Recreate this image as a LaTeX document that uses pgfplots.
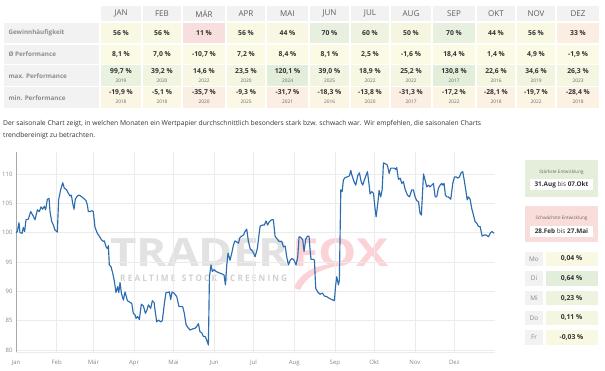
\documentclass[border=0pt]{standalone}
\usepackage{fontspec}
\setmainfont{Open Sans}
\usepackage{graphicx}
\usepackage{pgfplots}
\pgfplotsset{compat=1.18}
\definecolor{hdr}{HTML}{F2F2F2}
\definecolor{hdrtext}{HTML}{5E5E5E}
\definecolor{lbltext}{HTML}{8C8C8C}
\definecolor{valtext}{HTML}{333333}
\definecolor{yrtext}{HTML}{666666}
\definecolor{cY}{HTML}{F8F8E3}
\definecolor{cPk}{HTML}{F8DEDC}
\definecolor{cY44}{HTML}{F9F7E3}
\definecolor{cG70}{HTML}{E7F0DE}
\definecolor{cG60}{HTML}{EEF3DF}
\definecolor{cY50}{HTML}{F6F6E0}
\definecolor{cO33}{HTML}{FBEDE1}
\definecolor{cPv}{HTML}{FAFAE5}
\definecolor{mG1}{HTML}{E9F1DF}
\definecolor{mG2}{HTML}{F1F4E0}
\definecolor{mG3}{HTML}{F7F7E3}
\definecolor{mG4}{HTML}{F4F6E1}
\definecolor{mG5}{HTML}{E3EEDA}
\definecolor{nO1}{HTML}{FBF6E4}
\definecolor{nO2}{HTML}{FBF9E5}
\definecolor{nO3}{HTML}{FBEEE2}
\definecolor{nO4}{HTML}{FBF2E3}
\definecolor{gridc}{HTML}{EBEBEB}
\definecolor{axc}{HTML}{A8A8A8}
\definecolor{tickc}{HTML}{888888}
\definecolor{curve}{HTML}{2C6DB0}
\definecolor{wmgray}{HTML}{E2E2E2}
\definecolor{wmpink}{HTML}{FBD3D7}
\definecolor{boxG}{HTML}{E4EEDB}
\definecolor{boxR}{HTML}{F8DDDA}
\newcommand{\hdrfont}{\fontsize{8}{9}\selectfont}
\newcommand{\lblfont}{\fontsize{6.3}{7}\selectfont\bfseries}
\newcommand{\valfont}{\fontsize{6.8}{8}\selectfont\bfseries}
\newcommand{\yrfont}{\fontsize{4.8}{5.5}\selectfont}
\newcommand{\dc}{,}
% #1 left #2 right #3 month #4 gain #5 gain colour #6 perf
\newcommand{\colA}[6]{%
  \fill[hdr] ({#1+0.7},6) rectangle ({#2-0.7},21);
  \node[font=\hdrfont, text=hdrtext] at ({(#1+#2)/2},13.5) {#3};
  \fill[#5] ({#1+0.7},22.7) rectangle ({#2-0.7},42.7);
  \node[font=\valfont, text=valtext] at ({(#1+#2)/2},33) {#4 \%};
  \fill[cPv] ({#1+0.7},45) rectangle ({#2-0.7},64.3);
  \node[font=\valfont, text=valtext] at ({(#1+#2)/2},54.5) {#6 \%};
}
% #1 left #2 right #3 max #4 year #5 colour #6 min #7 year #8 colour
\newcommand{\colB}[8]{%
  \fill[#5] ({#1+0.7},65.3) rectangle ({#2-0.7},86.5);
  \node[font=\valfont, text=valtext] at ({(#1+#2)/2},71.5) {#3 \%};
  \node[font=\yrfont, text=yrtext] at ({(#1+#2)/2},80.5) {#4};
  \fill[#8] ({#1+0.7},87.3) rectangle ({#2-0.7},108.3);
  \node[font=\valfont, text=valtext] at ({(#1+#2)/2},92.8) {#6 \%};
  \node[font=\yrfont, text=yrtext] at ({(#1+#2)/2},101.5) {#7};
}
\begin{document}
\begin{tikzpicture}
\useasboundingbox (0,0) rectangle (605pt,-371pt);
\begin{scope}[x=1pt,y=-1pt]
% row labels
\foreach \t/\b/\lab in {22.7/42.7/Gewinnhäufigkeit, 45/64.3/Ø Performance, 65.3/86.5/max. Performance, 87.3/108.3/min. Performance} {
  \fill[hdr] (4,\t) rectangle (99,\b);
  \node[anchor=west, font=\lblfont, text=lbltext] at (5,{(\t+\b)/2}) {\lab};
}
\colA{100}{142}{JAN}{56}{cY}{8\dc1}
\colA{142}{182}{FEB}{56}{cY}{7\dc0}
\colA{182}{226}{MÄR}{11}{cPk}{-10\dc7}
\colA{226}{266}{APR}{56}{cY}{7\dc2}
\colA{266}{309}{MAI}{44}{cY44}{8\dc4}
\colA{309}{350}{JUN}{70}{cG70}{8\dc1}
\colA{350}{390}{JUL}{60}{cG60}{2\dc5}
\colA{390}{432}{AUG}{50}{cY50}{-1\dc6}
\colA{432}{476}{SEP}{70}{cG70}{18\dc4}
\colA{476}{516}{OKT}{44}{cY44}{1\dc4}
\colA{516}{556}{NOV}{56}{cY}{4\dc9}
\colA{556}{600}{DEZ}{33}{cO33}{-1\dc9}
\colB{100}{142}{99\dc7}{2019}{mG1}{-19\dc9}{2018}{nO1}
\colB{142}{182}{39\dc2}{2020}{mG2}{-5\dc1}{2018}{nO2}
\colB{182}{226}{14\dc6}{2022}{mG3}{-35\dc7}{2020}{nO3}
\colB{226}{266}{23\dc5}{2020}{mG4}{-9\dc3}{2025}{nO2}
\colB{266}{309}{120\dc1}{2024}{mG5}{-31\dc7}{2021}{nO3}
\colB{309}{350}{39\dc0}{2025}{mG2}{-18\dc3}{2016}{nO1}
\colB{350}{390}{18\dc9}{2022}{mG3}{-13\dc8}{2020}{nO1}
\colB{390}{432}{25\dc2}{2022}{mG4}{-31\dc3}{2017}{nO3}
\colB{432}{476}{130\dc8}{2017}{mG5}{-17\dc2}{2022}{nO1}
\colB{476}{516}{22\dc6}{2016}{mG4}{-28\dc1}{2018}{nO4}
\colB{516}{556}{34\dc6}{2019}{mG2}{-19\dc7}{2022}{nO1}
\colB{556}{600}{26\dc3}{2023}{mG4}{-28\dc4}{2018}{nO4}
% description
\node[anchor=west, font=\fontsize{6.75}{8}\selectfont, text=valtext, inner sep=0] at (3,124) {Der saisonale Chart zeigt, in welchen Monaten ein Wertpapier durchschnittlich besonders stark bzw. schwach war. Wir empfehlen, die saisonalen Charts};
\node[anchor=west, font=\fontsize{6.75}{8}\selectfont, text=valtext, inner sep=0] at (3,136) {trendbereinigt zu betrachten.};
% watermark
\fill[wmpink] (294,288) .. controls (300,272) and (318,262) .. (346,264) .. controls (322,268) and (306,276) .. (300,290) -- cycle;
\node[anchor=west, inner sep=0, text=wmgray] at (110,252.5) {\resizebox{179pt}{28pt}{\bfseries TRADER}};
\node[anchor=west, inner sep=0, text=wmpink] at (292,252.5) {\resizebox{96pt}{28pt}{\bfseries FOX}};
\node[anchor=west, inner sep=0, text=wmgray!92!black] at (120,278) {\resizebox{167pt}{6.5pt}{\bfseries R E A L T I M E \ \ S T O C K \ \ S C R E E N I N G}};
% right panel
\fill[boxG] (525,160) rectangle (598,197);
\node[font=\fontsize{4.6}{5}\selectfont, text=yrtext] at (561.5,172.5) {Stärkste Entwicklung};
\fill[white] (530,179) rectangle (593,190);
\node[font=\fontsize{6.4}{7}\selectfont, text=valtext] at (561.5,184.5) {\textbf{31.Aug} bis \textbf{07.Okt}};
\fill[boxR] (525,206) rectangle (598,242);
\node[font=\fontsize{4.6}{5}\selectfont, text=yrtext] at (561.5,218.5) {Schwächste Entwicklung};
\fill[white] (530,226) rectangle (593,237);
\node[font=\fontsize{6.4}{7}\selectfont, text=valtext] at (561.5,231.5) {\textbf{28.Feb} bis \textbf{27.Mai}};
\foreach \c/\d/\v/\col in {258.8/Mo/0\dc04/cY, 278.5/Di/0\dc64/mG5, 298.2/Mi/0\dc23/cG60, 317.8/Do/0\dc11/mG4, 337.5/Fr/-0\dc03/cY} {
  \fill[hdr] (525,{\c-7.2}) rectangle (543,{\c+7.2});
  \node[font=\fontsize{6.4}{7}\selectfont, text=tickc] at (534,\c) {\d};
  \fill[\col] (545.5,{\c-7.2}) rectangle (598,{\c+7.2});
  \node[font=\valfont, text=valtext] at (571.5,\c) {\v\ \%};
}
\end{scope}
\begin{axis}[
  at={(16pt,-352pt)}, anchor=south west,
  width=479pt, height=200pt, scale only axis,
  xmin=0, xmax=365, ymin=79.66, ymax=113.75,
  xtick={0,31,59,90,120,151,181,212,243,273,304,334},
  xticklabels={Jan,Feb,Mär,Apr,Mai,Jun,Jul,Aug,Sep,Okt,Nov,Dez},
  ytick={80,85,90,95,100,105,110},
  grid=major, major grid style={draw=gridc, line width=0.5pt},
  axis x line*=bottom, axis y line*=left,
  x axis line style={draw=gridc}, y axis line style={draw=axc},
  tick style={draw=none},
  ticklabel style={font=\fontsize{6}{7}\selectfont, text=tickc},
  xticklabel style={yshift=-4.5pt},
  /pgf/number format/assume math mode=true,
  clip=false,
]
\addplot[curve, line width=1.15pt, line join=round] table {
0 100.0
1.0 100.2
2.3 101.7
3.0 100.0
4.6 99.9
5.6 100.9
6.6 100.2
7.6 102.2
9.4 102.3
11.2 103.6
13.2 102.8
14.5 102.2
16.3 103.9
17.8 103.6
19.1 104.4
20.3 104.0
21.6 104.5
22.6 103.9
23.9 105.7
25.2 105.85
25.9 103.6
27.2 101.9
28.5 101.3
29.7 100.45
31.5 100.1
32.5 105.6
34.0 107.3
35.6 108.5
36.8 107.6
38.6 107.3
39.9 106.7
41.2 106.25
42.2 106.4
43.2 105.0
44.2 104.0
45.2 105.7
46.7 106.25
48.3 106.4
50.1 106.1
51.8 105.8
53.4 105.45
54.4 104.7
55.1 103.6
56.4 103.6
57.7 103.75
58.9 103.6
60.2 100.9
62.0 99.9
64.0 99.2
65.3 98.75
66.6 98.5
67.3 98.6
68.6 97.6
69.6 97.3
70.4 97.8
71.1 94.5
72.4 94.2
73.7 93.1
74.9 91.8
76.2 89.8
77.5 90.8
78.3 89.8
79.3 91.5
80.3 89.7
81.8 88.5
83.1 89.9
84.9 88.4
86.4 88.2
88.2 87.95
89.4 86.25
90.7 86.0
91.5 85.4
92.7 85.7
94.0 85.2
95.5 87.8
97.1 87.5
98.6 86.25
99.8 86.8
100.9 87.7
102.6 87.1
103.9 88.4
105.2 88.1
105.9 86.9
107.2 84.8
108.7 85.1
110.3 84.8
111.5 85.0
113.1 88.0
114.3 89.8
115.6 89.8
116.9 89.9
117.9 88.6
118.9 89.9
120.4 89.7
122.5 89.1
124.2 87.4
125.5 87.4
127.0 87.4
128.3 86.2
129.6 84.3
130.8 83.9
132.6 83.4
134.7 83.6
136.4 83.7
137.7 84.0
139.0 84.5
140.2 83.1
141.5 82.95
142.8 82.3
144.1 82.3
145.3 81.7
146.6 80.85
147.4 92.5
148.6 94.5
149.6 93.4
150.9 93.7
152.4 93.4
154.2 93.2
156.7 93.0
158.5 92.8
159.6 91.1
160.6 94.5
161.6 96.5
163.1 95.3
164.4 96.5
165.7 97.9
166.9 98.6
168.2 98.4
169.5 98.2
170.7 99.2
173.3 99.6
174.5 100.2
175.8 100.6
177.1 98.5
178.4 97.3
180.4 96.8
182.2 95.9
183.9 97.3
186.0 101.1
187.8 101.3
189.3 101.3
190.5 102.0
191.8 101.3
193.1 101.9
194.9 102.2
196.1 102.2
197.4 99.4
198.7 99.0
200.5 98.5
202.5 98.5
203.8 97.6
205.1 97.7
206.3 95.9
207.6 94.5
208.9 95.3
210.4 95.6
211.9 95.3
213.4 94.5
214.7 95.9
215.7 99.3
217.0 99.2
218.5 98.75
219.5 96.8
220.8 98.9
222.1 99.4
223.3 99.4
224.1 97.0
224.8 95.45
226.6 95.45
227.4 95.3
228.4 90.5
229.9 89.9
231.7 89.5
233.5 89.7
235.0 89.2
236.8 89.1
238.8 88.8
240.6 88.6
242.6 88.4
243.6 91.1
244.4 92.5
245.7 91.1
246.4 91.9
247.5 107.3
248.5 107.0
249.5 109.0
250.8 109.4
252.5 109.5
254.1 109.7
255.1 110.6
256.1 109.7
257.6 108.7
258.9 108.1
260.4 109.7
261.7 110.2
263.0 108.7
264.2 108.1
265.5 109.0
266.8 109.8
267.8 110.4
269.1 108.1
269.8 106.6
271.1 107.0
272.4 106.7
273.6 104.1
274.4 102.7
275.7 105.0
276.7 107.2
277.9 106.1
279.0 107.3
280.0 111.9
281.8 111.7
283.0 111.5
284.3 110.1
285.6 111.0
286.6 111.0
288.1 111.0
289.4 110.8
290.1 111.1
291.4 109.1
292.7 109.3
294.0 108.4
295.2 108.7
296.5 107.4
298.3 106.4
299.8 106.1
301.6 107.3
302.8 107.3
304.1 106.1
305.4 105.45
306.7 105.3
307.9 103.3
308.9 103.0
310.5 110.0
311.7 109.0
313.0 107.8
314.3 108.1
315.5 107.8
316.8 108.1
318.1 108.4
319.4 106.1
320.6 106.1
321.9 107.6
323.2 108.1
324.4 108.4
325.2 108.1
326.2 108.4
327.2 106.4
328.3 106.1
329.5 106.1
331.3 105.7
332.8 108.4
334.1 109.5
335.4 109.5
336.6 109.3
337.9 109.5
339.2 110.2
340.4 110.4
341.5 109.0
342.7 107.3
343.8 105.6
344.8 106.1
346.0 105.7
347.3 104.1
348.6 103.0
349.8 101.9
351.1 101.6
352.4 101.1
353.7 101.0
355.2 99.4
356.7 99.6
358.2 99.6
360.0 99.3
361.3 99.9
362.6 100.2
364.3 99.9
};
\end{axis}
\end{tikzpicture}
\end{document}
